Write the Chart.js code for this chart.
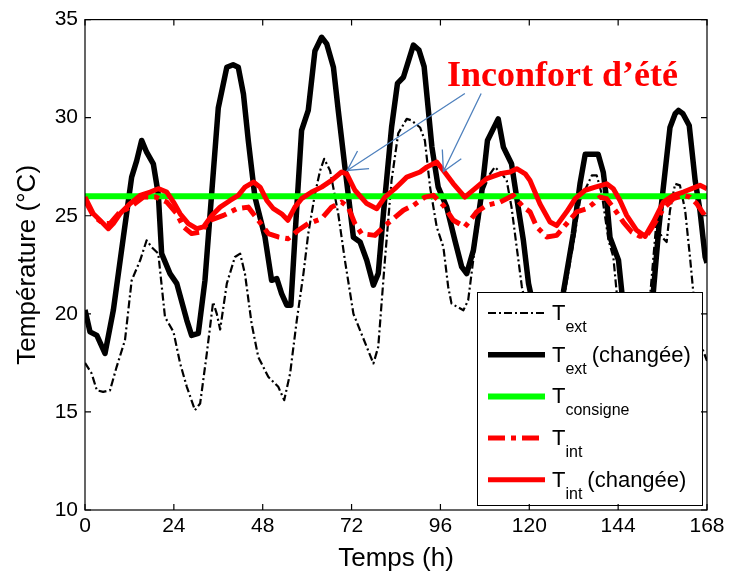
<!DOCTYPE html>
<html>
<head>
<meta charset="utf-8">
<script src="https://cdn.jsdelivr.net/npm/chart.js@4.4.0/dist/chart.umd.min.js"></script>
<style>
  html, body { margin: 0; padding: 0; background: #fff; }
  #wrap { width: 731px; height: 575px; }
</style>
</head>
<body>
<div id="wrap"><canvas id="tempChart"></canvas></div>
<script>
// values: hours (h) and temperatures (°C)
var textHours = [0, 1.8, 3.2, 4.9, 6.75, 8.55, 10.8, 12.6, 14.9, 16.65, 18, 19.8, 21.6, 23.9, 25.7, 27.5, 29.7, 31.1, 32.9, 34.6, 35.6, 36.5, 38.3, 40.5, 41.9, 43.2, 45, 46.8, 49.5, 52.2, 53.8, 55.4, 57.2, 59, 60.3, 62.1, 63.5, 64.6, 66.2, 68.4, 70.2, 72.5, 74.3, 76.1, 77.9, 79.2, 81, 82.8, 84.6, 86.9, 88.2, 90.5, 91.8, 93.2, 95, 96.8, 98.1, 99, 102.2, 103.5, 105.3, 107.6, 109.4, 110.7, 112.6, 113.9, 115.2, 116.6, 118, 121, 124, 127, 129.7, 131.9, 133.7, 136.9, 138.2, 139.6, 141.4, 142.7, 143.6, 146, 149, 152, 154.3, 155.8, 157.1, 158, 159.4, 160.7, 162.1, 163.4, 164.3, 166, 168];
var textTemps = [17.5, 16.96, 16.1, 16.02, 16.1, 17.3, 18.66, 21.7, 22.73, 23.75, 23.4, 23.07, 19.84, 19.08, 17.47, 16.28, 15.09, 15.43, 17.98, 20.6, 20.0, 19.2, 21.54, 22.9, 23.07, 22.05, 19.5, 17.8, 16.79, 16.28, 15.6, 16.96, 19.67, 22.05, 24.09, 26.1, 27.3, 27.9, 27.3, 25.1, 22.73, 20.0, 19.16, 18.31, 17.47, 18.31, 22.73, 26.8, 29.2, 29.94, 29.86, 29.5, 28.84, 26.46, 24.43, 23.4, 21.37, 20.52, 20.18, 20.7, 23.4, 26.3, 27.14, 27.48, 27.14, 26.8, 25.44, 23.4, 21.37, 18.8, 17.3, 18.2, 21.2, 23.58, 25.78, 27.06, 27.06, 26.1, 23.75, 22.9, 21.1, 18.5, 17.2, 19.5, 24.6, 23.92, 23.66, 25.27, 26.63, 26.55, 25.27, 22.9, 21.1, 18.6, 17.6];

var textChHours = [0, 1.35, 3.2, 5.4, 7.65, 10.35, 12.6, 13.95, 15.3, 16.65, 18.45, 19.8, 20.7, 22.96, 24.8, 27.5, 28.8, 30.6, 32.4, 34.2, 36, 38.3, 40, 41.4, 42.8, 44.1, 45.9, 48.6, 50.4, 51.8, 53.1, 54.5, 55.6, 56.7, 58.5, 60.3, 62.1, 63.9, 65.3, 67.1, 68.4, 70.2, 72.5, 74.3, 76.1, 77.9, 79.2, 80.6, 82.8, 84.4, 86, 88.7, 90.2, 91.6, 93.7, 95.4, 97.7, 99.9, 101.75, 103.1, 104.9, 107.1, 108.7, 111.6, 113, 115.2, 117, 118.4, 119.8, 122, 124.5, 127, 129.2, 131.9, 133.7, 135.1, 138.6, 140, 140.9, 141.8, 144.1, 145, 147, 149.5, 151.5, 153.5, 155, 158, 159.4, 160.3, 161.5, 163.2, 164.8, 166.1, 167.5, 168];
var textChTemps = [20.2, 19.08, 18.9, 17.98, 20.18, 23.9, 26.97, 27.8, 28.84, 28.24, 27.65, 26.1, 23.07, 22.05, 21.54, 19.67, 18.9, 19.0, 21.7, 26.1, 30.5, 32.57, 32.7, 32.57, 31.2, 28.84, 25.95, 23.92, 21.71, 21.8, 21.03, 20.44, 20.44, 23.9, 29.35, 30.37, 33.4, 34.1, 33.76, 32.57, 30.37, 27.48, 23.9, 23.66, 22.73, 21.46, 22.05, 25.1, 29.5, 31.75, 32.06, 33.7, 33.45, 32.6, 28.5, 26.46, 25.44, 23.75, 22.39, 22.05, 23.24, 26.1, 28.84, 29.94, 28.5, 27.65, 25.44, 23.75, 21.54, 19.6, 18.6, 19.3, 21.1, 24.09, 26.63, 28.13, 28.13, 27.2, 25.8, 23.9, 22.73, 21.1, 19.2, 18.6, 19.3, 21.1, 24.4, 29.5, 30.2, 30.37, 30.2, 29.6, 26.8, 25.27, 22.9, 22.6];

var consigneHours = [0, 168];
var consigneTemps = [26, 26];

var tintHours = [0, 2.25, 4.9, 6.75, 9, 12.2, 15.8, 19.2, 22.1, 24.8, 26.6, 28.8, 31.1, 33.8, 37.4, 41, 44.1, 46.8, 49.5, 52.2, 54.9, 57.6, 60.3, 63.9, 66.6, 69.3, 71.1, 72.9, 74.7, 78.3, 80.6, 82.8, 86, 88.7, 91.8, 94.1, 96.8, 99.5, 102.6, 105.8, 108.5, 112.1, 115.7, 118.4, 120.2, 122, 124.7, 127.4, 130.1, 132.8, 135.5, 137.3, 139.1, 140.9, 143.2, 145.4, 147.7, 149.9, 151.7, 153.5, 156.2, 158.9, 161.6, 163.4, 165.2, 168];
var tintTemps = [25.8, 25.0, 24.6, 24.6, 25.1, 25.44, 25.95, 25.95, 25.7, 25.1, 24.43, 24.09, 24.17, 24.77, 25.02, 25.36, 25.44, 24.77, 24.09, 23.92, 23.83, 24.26, 24.6, 24.85, 25.44, 25.7, 25.44, 24.6, 24.09, 24.0, 24.43, 24.77, 25.28, 25.53, 25.95, 26.04, 25.53, 24.77, 24.43, 25.2, 25.53, 25.7, 26.04, 25.44, 25.2, 24.43, 23.92, 24.0, 24.6, 25.2, 25.36, 25.62, 25.95, 25.87, 25.28, 24.68, 24.17, 23.95, 24.0, 24.5, 25.36, 25.87, 26.04, 25.95, 25.62, 24.85];

var tintChHours = [0, 2.25, 4.05, 6.3, 7.65, 9.45, 12.2, 14.9, 17.6, 19.8, 22.1, 23.9, 25.7, 27.9, 30.2, 32, 34.2, 36.5, 39.2, 41.4, 43.2, 45.5, 47.3, 49.1, 50.9, 53.1, 54.8, 56.7, 58.5, 61.2, 63.9, 66.6, 69.3, 70.7, 72.9, 76.1, 78.8, 81, 83.7, 86.9, 90.5, 92.3, 95, 96.8, 99.5, 102.6, 105.8, 108.5, 112.1, 114.8, 116.6, 118.9, 120.2, 122.9, 125.6, 127.4, 130.1, 132.4, 135.1, 137.8, 140.9, 142.7, 144.5, 146.3, 149, 151.3, 153.5, 156.2, 158.9, 161.6, 163.9, 166.1, 168];
var tintChTemps = [25.95, 25.1, 24.77, 24.34, 24.6, 25.1, 25.62, 26.04, 26.21, 26.38, 26.21, 25.7, 25.1, 24.6, 24.34, 24.43, 25.0, 25.44, 25.78, 26.04, 26.46, 26.72, 26.46, 25.78, 25.36, 25.1, 24.77, 25.44, 25.87, 26.21, 26.46, 26.8, 27.23, 27.14, 26.3, 25.62, 25.36, 25.95, 26.38, 26.97, 27.23, 27.48, 27.74, 27.31, 26.63, 25.95, 26.46, 26.89, 27.14, 27.23, 27.4, 27.14, 26.8, 25.6, 24.68, 24.5, 25.2, 25.87, 26.3, 26.46, 26.63, 26.38, 25.78, 25.02, 24.26, 23.95, 24.68, 25.7, 26.04, 26.21, 26.38, 26.55, 26.38];

var xTickStep = 24;
var yTickStep = 5;

// annotation, in data units
var noteText = "Inconfort d\u2019\u00e9t\u00e9";
var noteAt = [97.8, 31.6];
var arrowTails = [[102.6, 31.23], [107.0, 31.23]];
var arrowTips = [[70.8, 27.31], [96.8, 27.26]];

function toPoints(hours, temps) {
  return hours.map(function (h, i) {
    return { x: h, y: temps[i] };
  });
}

var legendNames = [
  { sub: "ext", rest: "" },
  { sub: "ext", rest: "(chang\u00e9e)" },
  { sub: "consigne", rest: "" },
  { sub: "int", rest: "" },
  { sub: "int", rest: "(chang\u00e9e)" },
];

// MATLAB-like box, inner ticks, legend and annotation
var matlabPlugin = {
  id: "matlabPlugin",
  afterDatasetsDraw: function (chart) {
    var ctx = chart.ctx;
    var area = chart.chartArea;
    var xs = chart.scales.x;
    var ys = chart.scales.y;

    ctx.save();
    // annotation arrows
    ctx.strokeStyle = "#4f81bd";
    ctx.lineWidth = 1.3;
    arrowTails.forEach(function (tail, i) {
      var x0 = xs.getPixelForValue(tail[0]);
      var y0 = ys.getPixelForValue(tail[1]);
      var x1 = xs.getPixelForValue(arrowTips[i][0]);
      var y1 = ys.getPixelForValue(arrowTips[i][1]);
      var ang = Math.atan2(y0 - y1, x0 - x1);
      ctx.beginPath();
      ctx.moveTo(x0, y0);
      ctx.lineTo(x1, y1);
      ctx.moveTo(x1 + 22 * Math.cos(ang - 0.5), y1 + 22 * Math.sin(ang - 0.5));
      ctx.lineTo(x1, y1);
      ctx.lineTo(x1 + 22 * Math.cos(ang + 0.5), y1 + 22 * Math.sin(ang + 0.5));
      ctx.stroke();
    });
    ctx.fillStyle = "#ff0000";
    ctx.font = "bold 36px 'Liberation Serif'";
    ctx.textBaseline = "alphabetic";
    ctx.textAlign = "left";
    ctx.fillText(noteText, xs.getPixelForValue(noteAt[0]), ys.getPixelForValue(noteAt[1]));

    // legend box
    var bx1 = area.right - 5, by1 = area.bottom - 5;
    var bx0 = bx1 - 225, by0 = by1 - 213;
    ctx.fillStyle = "#fff";
    ctx.fillRect(bx0, by0, bx1 - bx0, by1 - by0);
    ctx.strokeStyle = "#000";
    ctx.lineWidth = 1;
    ctx.strokeRect(bx0 + 0.5, by0 + 0.5, bx1 - bx0, by1 - by0);
    chart.data.datasets.forEach(function (ds, i) {
      var ry = by0 + 21 + i * 41.7;
      ctx.save();
      ctx.strokeStyle = ds.borderColor;
      ctx.lineWidth = ds.borderWidth;
      ctx.setLineDash(ds.borderDash || []);
      ctx.beginPath();
      ctx.moveTo(bx0 + 11, ry);
      ctx.lineTo(bx0 + 68, ry);
      ctx.stroke();
      ctx.restore();
      var tx = bx0 + 75;
      ctx.fillStyle = "#000";
      ctx.font = "22px 'Liberation Sans'";
      ctx.fillText("T", tx, ry + 7);
      tx += ctx.measureText("T").width;
      ctx.font = "16px 'Liberation Sans'";
      ctx.fillText(legendNames[i].sub, tx, ry + 19);
      tx += ctx.measureText(legendNames[i].sub).width + 5;
      if (legendNames[i].rest) {
        ctx.font = "22px 'Liberation Sans'";
        ctx.fillText(legendNames[i].rest, tx, ry + 7);
      }
    });

    // axes box and inward ticks
    ctx.strokeStyle = "#000";
    ctx.lineWidth = 1.2;
    ctx.strokeRect(area.left, area.top, area.right - area.left, area.bottom - area.top);
    ctx.beginPath();
    xs.ticks.forEach(function (t) {
      var px = xs.getPixelForValue(t.value);
      ctx.moveTo(px, area.bottom);
      ctx.lineTo(px, area.bottom - 6);
      ctx.moveTo(px, area.top);
      ctx.lineTo(px, area.top + 6);
    });
    ys.ticks.forEach(function (t) {
      var py = ys.getPixelForValue(t.value);
      ctx.moveTo(area.left, py);
      ctx.lineTo(area.left + 6, py);
      ctx.moveTo(area.right, py);
      ctx.lineTo(area.right - 6, py);
    });
    ctx.stroke();
    ctx.restore();
  },
};

var ctx = document.getElementById("tempChart").getContext("2d");
var tempChart = new Chart(ctx, {
  type: "line",
  data: {
    datasets: [
      {
        label: "Text",
        data: toPoints(textHours, textTemps),
        borderColor: "#000000",
        borderWidth: 2.2,
        borderDash: [8, 3, 2, 3],
        order: 5,
      },
      {
        label: "Text (changée)",
        data: toPoints(textChHours, textChTemps),
        borderColor: "#000000",
        borderWidth: 5.5,
        order: 4,
      },
      {
        label: "Tconsigne",
        data: toPoints(consigneHours, consigneTemps),
        borderColor: "#00ff00",
        borderWidth: 6,
        order: 3,
      },
      {
        label: "Tint",
        data: toPoints(tintHours, tintTemps),
        borderColor: "#ff0000",
        borderWidth: 5,
        borderDash: [17, 6, 5, 6],
        order: 2,
      },
      {
        label: "Tint (changée)",
        data: toPoints(tintChHours, tintChTemps),
        borderColor: "#ff0000",
        borderWidth: 5,
        order: 1,
      },
    ],
  },
  options: {
    responsive: true,
    maintainAspectRatio: false,
    animation: false,
    layout: { padding: { top: 19, right: 24, left: 0, bottom: 0 } },
    elements: {
      point: { radius: 0 },
      line: { tension: 0, fill: false, borderJoinStyle: "round", borderCapStyle: "butt" },
    },
    plugins: {
      legend: { display: false },
      tooltip: { enabled: false },
    },
    scales: {
      x: {
        type: "linear",
        min: 0,
        max: 168,
        grid: { display: false, drawTicks: false },
        border: { display: false },
        ticks: {
          stepSize: xTickStep,
          padding: 4,
          color: "#000",
          font: { family: "'Liberation Sans'", size: 21 },
          maxRotation: 0,
        },
        title: {
          display: true,
          text: "Temps (h)",
          color: "#000",
          font: { family: "'Liberation Sans'", size: 26 },
          padding: { top: 0, bottom: 1 },
        },
        afterFit: function (scale) {
          scale.height = 65;
        },
      },
      y: {
        min: 10,
        max: 35,
        grid: { display: false, drawTicks: false },
        border: { display: false },
        ticks: {
          stepSize: yTickStep,
          padding: 7,
          color: "#000",
          font: { family: "'Liberation Sans'", size: 21 },
        },
        title: {
          display: true,
          text: "Température (°C)",
          color: "#000",
          font: { family: "'Liberation Sans'", size: 26 },
          padding: { top: 12, bottom: 0 },
        },
        afterFit: function (scale) {
          scale.width = 85;
        },
      },
    },
  },
  plugins: [matlabPlugin],
});
</script>
</body>
</html>
